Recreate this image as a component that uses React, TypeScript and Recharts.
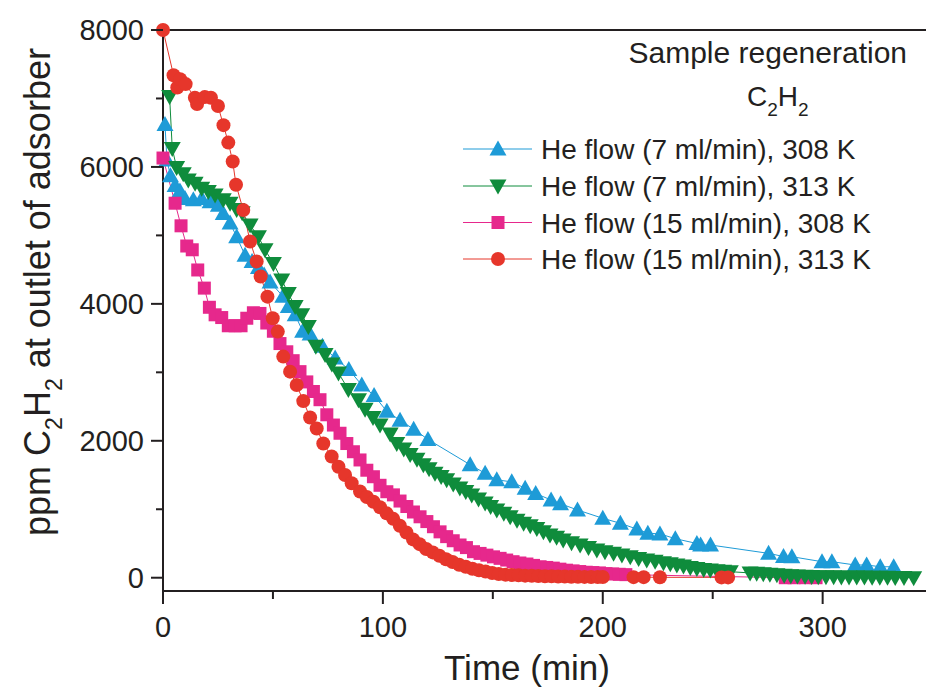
import React from 'react';
import { LineChart, Line, XAxis, YAxis, ReferenceLine } from 'recharts';

// He flow 7 ml/min, 308 K
const blueTime = [0.9, 1.8, 3.4, 5.5, 7.7, 10, 13.8, 17.6, 21.4, 25.2, 27.4, 30.5, 33.5, 37.3, 40.5, 43.4, 46, 48.7, 54.5, 57, 60.1, 63.5, 66.9, 72.5, 78.3, 84.5, 90.4, 96, 101.8, 107.8, 114, 120.5, 139.7, 146.5, 151.8, 158.6, 164.7, 169.5, 176.5, 180.8, 188.5, 200, 208, 215.5, 220.5, 226, 233, 242.8, 244.5, 249, 275.4, 282.2, 286, 299.7, 304.2, 314.8, 320, 326.2, 332.3];
const blueValue = [6620, 6100, 5870, 5730, 5650, 5540, 5520, 5540, 5490, 5440, 5320, 5180, 4980, 4710, 4620, 4530, 4420, 4320, 4110, 3960, 3840, 3600, 3560, 3380, 3210, 3040, 2815, 2660, 2430, 2300, 2170, 2020, 1650, 1525, 1430, 1400, 1306, 1230, 1135, 1080, 990, 868, 795, 710, 650, 640, 570, 500, 478, 478, 356, 310, 307, 234, 234, 186, 186, 160, 160];

// He flow 7 ml/min, 313 K
const greenTime = [3, 4.2, 6.2, 9.2, 11.5, 14.6, 17.6, 20.6, 23.7, 27.4, 30.5, 33.5, 36, 39.6, 43.4, 46.4, 50.2, 54, 57, 60.1, 63.1, 66.1, 69.5, 73.7, 76.8, 79.8, 84.3, 88.9, 91.9, 95.5, 98.7, 103.3, 106.3, 109.5, 112.4, 115.5, 118.4, 121, 123.7, 126.5, 129, 132, 135, 137.7, 140.4, 143.5, 146.5, 149, 151.8, 155, 157.9, 161, 164, 167, 170, 173, 176, 179, 182, 185.8, 189.7, 193.5, 197.3, 201, 204.9, 208.7, 212.5, 216.3, 220, 223.8, 227.6, 230.7, 233.7, 236.7, 239.8, 242.8, 245.9, 248.9, 252, 255, 258, 267, 270, 273, 276, 279.2, 282.5, 285.5, 288.5, 292, 295, 298, 301.5, 305, 308.5, 312, 315.5, 319, 322.5, 326, 329.5, 333, 337, 341.4];
const greenValue = [7030, 6270, 5990, 5900, 5810, 5760, 5690, 5640, 5590, 5520, 5470, 5380, 5330, 5150, 4980, 4790, 4590, 4350, 4150, 3960, 3840, 3670, 3380, 3260, 3120, 2990, 2750, 2600, 2460, 2340, 2230, 2100, 1960, 1880, 1800, 1730, 1650, 1590, 1525, 1480, 1430, 1370, 1310, 1260, 1210, 1150, 1090, 1040, 990, 940, 890, 840, 795, 760, 720, 670, 625, 590, 550, 510, 478, 440, 405, 380, 356, 330, 307, 280, 258, 240, 220, 205, 186, 170, 150, 135, 120, 112, 100, 95, 88, 70, 64, 58, 50, 42, 35, 30, 25, 20, 18, 15, 14, 13, 12, 11, 10, 9, 8, 7, 6, 5, 4, 0];

// He flow 15 ml/min, 308 K
const magentaTime = [0, 5.5, 8.2, 10.8, 13.3, 15.8, 18.8, 21.1, 23.7, 26.7, 29.7, 32.8, 35.5, 38.1, 41.1, 44.1, 47.2, 50.2, 53.2, 56.3, 59.2, 62.3, 65.4, 68.4, 71.4, 74.5, 77.5, 80.5, 83.6, 86.6, 89.6, 92.7, 95.7, 98.7, 101.8, 104.8, 107.8, 110.9, 113.9, 116.9, 120, 123, 126, 129, 132, 135.1, 138, 141.2, 144.2, 147.3, 150.3, 153.3, 156.3, 159.2, 162.3, 165.5, 168.5, 171.5, 174.5, 177.5, 180.5, 183.5, 186.5, 189.5, 192.5, 195.5, 198.5, 201.5, 204.5, 207.5, 210.5, 283, 287, 292, 297];
const magentaValue = [6130, 5470, 5140, 4845, 4790, 4495, 4230, 3950, 3840, 3800, 3680, 3680, 3680, 3790, 3870, 3860, 3720, 3600, 3420, 3300, 3170, 3010, 2860, 2720, 2600, 2380, 2230, 2110, 1960, 1840, 1720, 1570, 1475, 1350, 1256, 1210, 1120, 1040, 960, 890, 820, 745, 670, 600, 540, 478, 440, 380, 355, 330, 305, 283, 258, 234, 215, 200, 180, 160, 150, 140, 125, 110, 100, 90, 80, 75, 70, 60, 55, 50, 45, 0, 0, 0, 0];

// He flow 15 ml/min, 313 K
const redTime = [0, 4.8, 6.5, 7.8, 10.3, 14.5, 15.5, 19, 21.8, 25, 27.5, 29.7, 31.7, 33.2, 36.5, 39.6, 42.6, 44.4, 47.5, 49.9, 52.2, 54.7, 57.8, 60.8, 63.8, 66.9, 69.9, 72.9, 76.7, 79.8, 82.8, 85.8, 89.6, 92.7, 95.7, 98.7, 101.7, 104.7, 107.7, 110.7, 113.7, 116.7, 119.7, 122.7, 125.7, 128.7, 131.7, 134.7, 137.7, 140.7, 143.7, 146.7, 149.7, 152.7, 155.7, 158.7, 161.7, 164.7, 167.7, 170.7, 173.7, 176.7, 179.7, 182.7, 185.7, 188.7, 191.7, 194.7, 197.7, 200, 214, 218.6, 226, 254, 257];
const redValue = [8000, 7340, 7160, 7280, 7210, 7010, 6920, 7020, 7010, 6890, 6610, 6355, 6080, 5740, 5370, 4910, 4620, 4400, 4105, 3790, 3595, 3230, 3010, 2815, 2580, 2340, 2180, 1960, 1770, 1620, 1500, 1380, 1260, 1180, 1110, 1030, 940, 860, 760, 660, 560, 490, 420, 370, 320, 270, 230, 190, 160, 130, 110, 90, 70, 55, 45, 40, 35, 30, 28, 25, 22, 20, 18, 16, 15, 14, 12, 11, 10, 10, 8, 8, 6, 5, 5];

const xTicks = [0, 50, 100, 150, 200, 250, 300];
const yTicks = [0, 1000, 2000, 3000, 4000, 5000, 6000, 7000, 8000];

const BLUE = '#1e9bd7';
const GREEN = '#0f8c3c';
const MAGENTA = '#e6288c';
const RED = '#e6362b';
const INK = '#231f20';
const FONT = '"Liberation Sans", Arial, sans-serif';

const toPoints = (ts: number[], vs: number[]) => ts.map((t, i) => ({ t, v: vs[i] }));

const upTri = (cx: number, cy: number, color: string, key?: any) => (
  <path key={key} d={`M${cx},${cy - 8.5} L${cx + 8.5},${cy + 6.5} L${cx - 8.5},${cy + 6.5} Z`} fill={color} />
);
const downTri = (cx: number, cy: number, color: string, key?: any) => (
  <path key={key} d={`M${cx - 8.5},${cy - 6.5} L${cx + 8.5},${cy - 6.5} L${cx},${cy + 8.5} Z`} fill={color} />
);
const square = (cx: number, cy: number, color: string, key?: any) => (
  <rect key={key} x={cx - 6.5} y={cy - 6.5} width={13} height={13} fill={color} />
);
const circle = (cx: number, cy: number, color: string, key?: any) => (
  <circle key={key} cx={cx} cy={cy} r={7} fill={color} />
);

const series = [
  { name: 'He flow (7 ml/min), 308 K', color: BLUE, shape: upTri, data: toPoints(blueTime, blueValue) },
  { name: 'He flow (7 ml/min), 313 K', color: GREEN, shape: downTri, data: toPoints(greenTime, greenValue) },
  { name: 'He flow (15 ml/min), 308 K', color: MAGENTA, shape: square, data: toPoints(magentaTime, magentaValue) },
  { name: 'He flow (15 ml/min), 313 K', color: RED, shape: circle, data: toPoints(redTime, redValue) },
];
// drawing order: blue, magenta, green, red on top
const drawOrder = [0, 2, 1, 3];

const YTick = (props: any) => {
  const { x, y, payload } = props;
  const major = payload.value % 2000 === 0;
  return (
    <g>
      <line x1={x - (major ? 12 : 7)} x2={x} y1={y} y2={y} stroke={INK} strokeWidth={2} />
      {major && (
        <text x={x - 19} y={y + 10} textAnchor="end" fontSize={29} fontFamily={FONT} fill={INK}>
          {payload.value}
        </text>
      )}
    </g>
  );
};

const XTick = (props: any) => {
  const { x, y, payload } = props;
  const major = payload.value % 100 === 0;
  return (
    <g>
      <line x1={x} x2={x} y1={y} y2={y + (major ? 13 : 8)} stroke={INK} strokeWidth={2} />
      {major && (
        <text x={x} y={y + 46} textAnchor="middle" fontSize={29} fontFamily={FONT} fill={INK}>
          {payload.value}
        </text>
      )}
    </g>
  );
};

const legendRows = [149, 186, 222.5, 259];

export default function App() {
  return (
    <div style={{ position: 'absolute', left: 0, top: 0, width: 926, height: 696, background: '#fff' }}>
      <LineChart width={926} height={696} margin={{ top: 30, right: 0, left: 63, bottom: 45 }}>
        <XAxis
          type="number"
          dataKey="t"
          domain={[0, 347]}
          ticks={xTicks}
          interval={0}
          tickSize={0}
          tickMargin={0}
          tickLine={false}
          tick={<XTick />}
          axisLine={{ stroke: INK, strokeWidth: 2 }}
          height={60}
        />
        <YAxis
          type="number"
          dataKey="v"
          domain={[-194, 8000]}
          ticks={yTicks}
          interval={0}
          tickSize={0}
          tickMargin={0}
          tickLine={false}
          tick={<YTick />}
          axisLine={{ stroke: INK, strokeWidth: 2 }}
          width={100}
        />
        <ReferenceLine y={8000} stroke={INK} strokeWidth={2} />
        {drawOrder.map((i) => {
          const s = series[i];
          return (
            <Line
              key={s.name}
              data={s.data}
              dataKey="v"
              name={s.name}
              stroke={s.color}
              strokeWidth={1}
              isAnimationActive={false}
              activeDot={false}
              dot={(p: any) => s.shape(p.cx, p.cy, s.color, `${s.name}-${p.index}`)}
            />
          );
        })}
      </LineChart>
      <svg width={926} height={696} style={{ position: 'absolute', left: 0, top: 0, pointerEvents: 'none' }}>
        <text
          transform="translate(50,292) rotate(-90)"
          textAnchor="middle"
          fontSize={36}
          fontFamily={FONT}
          fill={INK}
        >
          ppm C<tspan fontSize={23} dy={12}>2</tspan>
          <tspan dy={-12}>H</tspan>
          <tspan fontSize={23} dy={12}>2</tspan>
          <tspan dy={-12}> at outlet of adsorber</tspan>
        </text>
        <text x={527} y={680} textAnchor="middle" fontSize={35} fontFamily={FONT} fill={INK}>
          Time (min)
        </text>
        <text x={907} y={63} textAnchor="end" fontSize={30} fontFamily={FONT} fill={INK}>
          Sample regeneration
        </text>
        <text x={747} y={106} fontSize={28} fontFamily={FONT} fill={INK}>
          C<tspan fontSize={19} dy={10}>2</tspan>
          <tspan dy={-10}>H</tspan>
          <tspan fontSize={19} dy={10}>2</tspan>
        </text>
        {series.map((s, i) => (
          <g key={s.name}>
            <line x1={463} x2={532} y1={legendRows[i]} y2={legendRows[i]} stroke={s.color} strokeWidth={1} />
            {s.shape(498, legendRows[i], s.color)}
            <text x={541} y={legendRows[i] + 10} fontSize={28} fontFamily={FONT} fill={INK}>
              {s.name}
            </text>
          </g>
        ))}
      </svg>
    </div>
  );
}
